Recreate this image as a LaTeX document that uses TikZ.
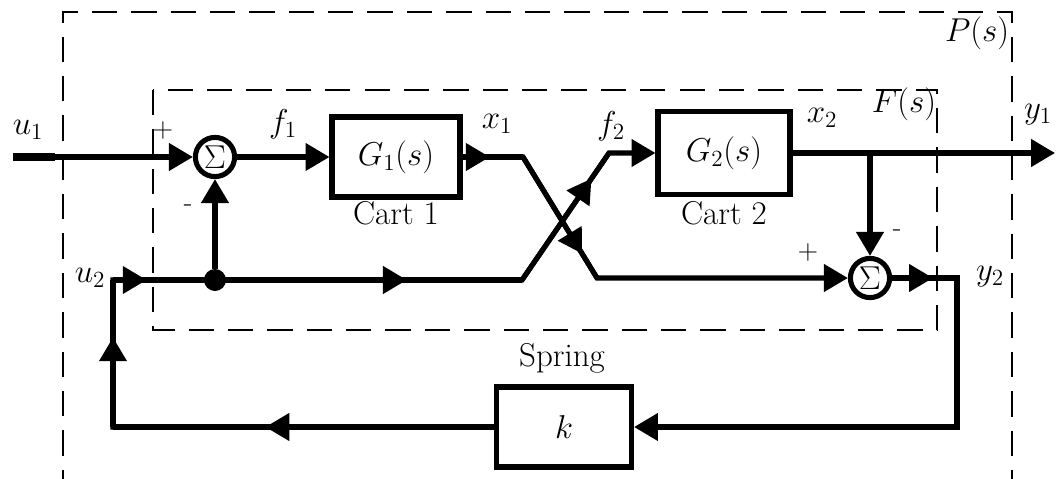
\RequirePackage{fix-cm}
\documentclass[tikz,border=0pt]{standalone}
\usetikzlibrary{arrows.meta,decorations.markings}
\begin{document}
\begin{tikzpicture}[x=0.025cm,y=-0.025cm,
  font=\fontsize{23.5}{28}\selectfont,
  sig/.style={line width=3.6pt},
  tip/.style={-{Triangle[length=17pt,width=19pt]}},
  midarrow/.style={postaction={decorate},decoration={markings,mark=at position #1 with {\arrow{Triangle[length=17pt,width=19pt]}}}},
  blk/.style={draw,line width=3.6pt,minimum width=3.2cm,minimum height=2cm,inner sep=0pt},
  sumnode/.style={draw,circle,line width=3.6pt,minimum size=0.98cm,inner sep=0pt},
  frame/.style={line width=1.4pt,dash pattern=on 18pt off 10pt},
  sign/.style={inner sep=0pt,font=\fontsize{20}{24}\selectfont},
  lbl/.style={inner sep=0pt}
]
\useasboundingbox (0,0) rectangle (1058,479);
\clip (0,0) rectangle (1058,479);

% frames
\draw[frame] (63,495) -- (63,12) -- (1012,12) -- (1012,495);
\draw[frame] (153,90) rectangle (937,330);

% blocks
\node[sumnode] (s1) at (215,157) {$\Sigma$};
\node[blk] (G1) at (396,157) {$G_1(s)$};
\node[blk,minimum width=3.3cm,minimum height=2.075cm] (G2) at (724,153) {$G_2(s)$};
\node[sumnode] (s2) at (870,278) {$\Sigma$};
\node[blk,minimum width=3.375cm] (K) at (564,427) {$k$};
\node[circle,fill,minimum size=0.55cm,inner sep=0pt] (jn) at (215,280) {};

% coordinates
\coordinate (u1s) at (13,157);
\coordinate (x1a) at (523,157);
\coordinate (x1b) at (597,278);
\coordinate (u2c) at (113,280);
\coordinate (lbc) at (113,427);
\coordinate (f2a) at (522,280);
\coordinate (f2b) at (609,153);
\coordinate (br) at (870,153);
\coordinate (y1e) at (1055,153);
\coordinate (y2c) at (957,278);
\coordinate (rbc) at (957,427);

% connectors
\draw[sig,tip] (u1s) -- (s1);
\draw[line width=6pt] (u1s) -- (55,157);
\draw[sig,tip] (s1) -- (G1);
\draw[sig,tip] (G1) -- (x1a) -- (x1b) -- (s2);
\draw[sig,midarrow=0.45] (G1.east) -- (x1a);
\draw[sig,midarrow=0.8] (x1a) -- (x1b);
\draw[sig,tip] (K) -- (lbc) -- (u2c) -- (jn.center) -- (f2a) -- (f2b) -- (G2);
\draw[sig,midarrow=0.6] (K.west) -- (lbc);
\draw[sig,midarrow=0.61] (lbc) -- (u2c);
\draw[sig,midarrow=0.33] (u2c) -- (jn.center);
\draw[sig,midarrow=0.625] (jn.center) -- (f2a);
\draw[sig,midarrow=0.8] (f2a) -- (f2b);
\draw[sig,tip] (jn) -- (s1);
\draw[sig,tip] (G2) -- (y1e);
\draw[sig,tip] (br) -- (s2);
\draw[sig,tip] (s2) -- (y2c) -- (rbc) -- (K);
\draw[sig,midarrow=0.63] (s2.east) -- (y2c);

% labels
\node[lbl] (lu1) at (28,130) {$u_1$};
\node[lbl] (lu2) at (90,278) {$u_2$};
\node[lbl] (lf1) at (283,124) {$f_1$};
\node[lbl] (lx1) at (497,124) {$x_1$};
\node[lbl] (lf2) at (611,126) {$f_2$};
\node[lbl] (lx2) at (822,118) {$x_2$};
\node[lbl] (ly1) at (1038,115) {$y_1$};
\node[lbl] (ly2) at (990,277) {$y_2$};
\node[lbl] (lF) at (904,104) {$F(s)$};
\node[lbl] (lP) at (977,33) {$P(s)$};
\node[lbl] (c1) at (396,213) {Cart 1};
\node[lbl] (c2) at (724,213) {Cart 2};
\node[lbl] (sp) at (562,358) {Spring};
\node[sign] (p1) at (163,130) {+};
\node[sign] (m1) at (188,208) {-};
\node[sign] (p2) at (808,252) {+};
\node[sign] (m2) at (897,233) {-};
\end{tikzpicture}
\end{document}
